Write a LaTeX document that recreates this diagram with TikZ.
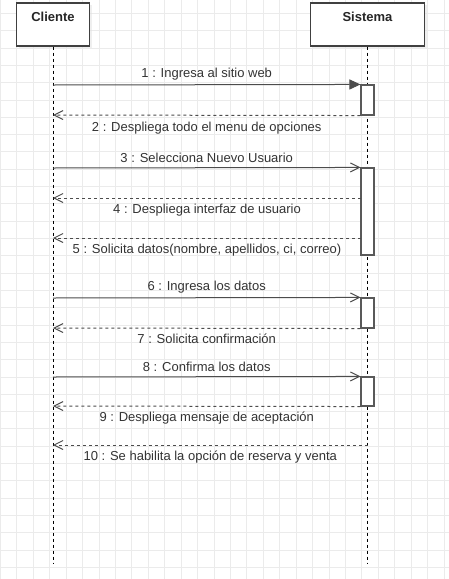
\documentclass[tikz,border=0pt]{standalone}
\usepackage{fontspec}
\setmainfont{Liberation Sans}
\usetikzlibrary{arrows.meta,positioning,shadows}

\begin{document}
\begin{tikzpicture}[x=1pt,y=-1pt,
		gridline/.style={draw=black!8,line width=0.6pt},
		actor/.style={draw=black!75,fill=white,line width=1.1pt,minimum width=#1,minimum height=43pt,inner sep=0pt,
			drop shadow={fill=black!12,shadow xshift=2pt,shadow yshift=-2pt}},
		actorname/.style={font=\fontsize{13}{15}\selectfont\bfseries,text=black!85},
		lifeline/.style={draw=black,line width=0.9pt,dash pattern=on 3pt off 3pt},
		activation/.style={draw=black!65,fill=white,line width=1.1pt,minimum width=13pt,minimum height=#1,inner sep=0pt},
		call/.style={draw=black!70,line width=1pt,-{Straight Barb[length=9pt,width=9pt]}},
		firstcall/.style={draw=black!70,line width=1pt,-{Triangle[length=11pt,width=10pt]}},
		reply/.style={draw=black!70,line width=1pt,dash pattern=on 3pt off 3pt,-{Straight Barb[length=9pt,width=9pt]}},
		msg/.style={font=\fontsize{13}{15}\selectfont,text=black!80,inner sep=2pt}]
		\useasboundingbox (0,0) rectangle (449,579);
		\fill[white] (0,0) rectangle (449,579);
		
		% grid
		\foreach \i in {0,...,27}
			\draw[gridline] ({0.3+16.43*\i},0) -- ({0.3+16.43*\i},579);
		\foreach \j in {0,...,32}
			\draw[gridline] (0,{13.3+17.31*\j}) -- (449,{13.3+17.31*\j});
		
		% actors
		\node[actor=73pt] (cliente) at (53,24.5) {};
		\node[actorname] (clientename) at (53,17) {Cliente};
		\node[actor=114pt] (sistema) at (367.5,24.5) {};
		\node[actorname] (sistemaname) at (367.5,17) {Sistema};
		
		% lifelines
		\coordinate (clienteend) at (53,563);
		\coordinate (sistemaend) at (367.5,563);
		\draw[lifeline] (cliente.south) -- (clienteend);
		\draw[lifeline] (sistema.south) -- (sistemaend);
		
		% activation boxes
		\node[activation=30pt] (act1) at (367.5,100) {};
		\node[activation=87pt] (act2) at (367.5,211.5) {};
		\node[activation=30pt] (act3) at (367.5,313) {};
		\node[activation=29pt] (act4) at (367.5,391.5) {};
		
		% message ends
		\foreach \n/\y in {1/85,2/115,3/168,4/198,5/238,6/298,7/328,8/377,9/406,10/445}
			\coordinate (c\n) at (53,\y);
		\coordinate (s4) at (361,198);
		\coordinate (s5) at (361,238);
		\coordinate (s10) at (367.5,445);
		
		% messages
		\draw[firstcall] (c1) -- node[msg,above=2.5pt] {1 : Ingresa al sitio web} (act1.north west);
		\draw[reply] (act1.south west) -- node[msg,below=4.5pt] {2 : Despliega todo el menu de opciones} (c2);
		\draw[call] (c3) -- node[msg,above=2.5pt] {3 : Selecciona Nuevo Usuario} (act2.north west);
		\draw[reply] (s4) -- node[msg,below=3.5pt] {4 : Despliega interfaz de usuario} (c4);
		\draw[reply] (s5) -- node[msg,below=3.5pt] {5 : Solicita datos(nombre, apellidos, ci, correo)} (c5);
		\draw[call] (c6) -- node[msg,above=2.5pt] {6 : Ingresa los datos} (act3.north west);
		\draw[reply] (act3.south west) -- node[msg,below=3.5pt] {7 : Solicita confirmación} (c7);
		\draw[call] (c8) -- node[msg,above=2.5pt] {8 : Confirma los datos} (act4.north west);
		\draw[reply] (act4.south west) -- node[msg,below=3.5pt] {9 : Despliega mensaje de aceptación} (c9);
		\draw[reply] (s10) -- node[msg,below=3.5pt] {10 : Se habilita la opción de reserva y venta} (c10);
	\end{tikzpicture}
\end{document}
